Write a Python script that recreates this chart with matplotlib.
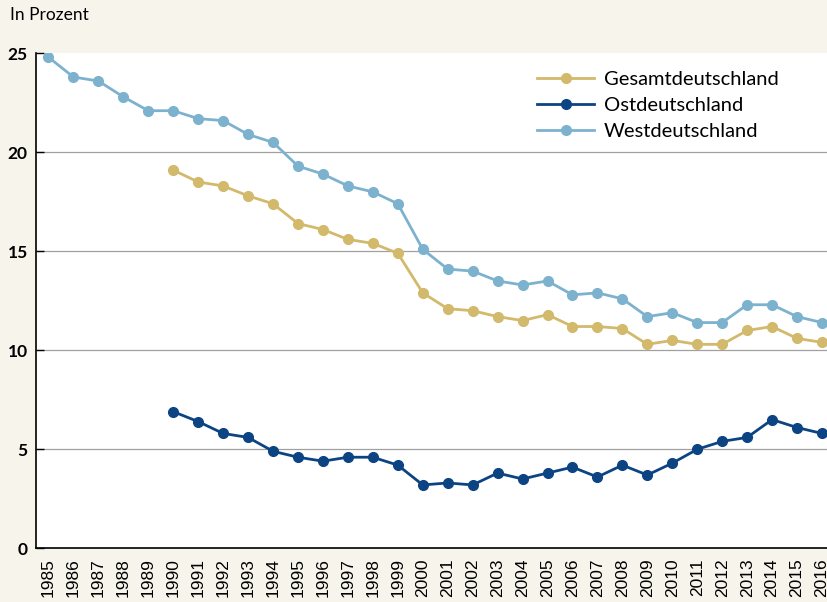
import matplotlib
matplotlib.use("Agg")
import matplotlib.pyplot as plt

# Werte in Prozent
jahre = list(range(1985, 2017))
jahre_ab_1990 = list(range(1990, 2017))

west = [24.8, 23.8, 23.6, 22.8, 22.1, 22.1, 21.7, 21.6, 20.9, 20.5,
        19.3, 18.9, 18.3, 18.0, 17.4, 15.1, 14.1, 14.0, 13.5, 13.3,
        13.5, 12.8, 12.9, 12.6, 11.7, 11.9, 11.4, 11.4, 12.3, 12.3,
        11.7, 11.4]
gesamt = [19.1, 18.5, 18.3, 17.8, 17.4, 16.4, 16.1, 15.6, 15.4, 14.9,
          12.9, 12.1, 12.0, 11.7, 11.5, 11.8, 11.2, 11.2, 11.1, 10.3,
          10.5, 10.3, 10.3, 11.0, 11.2, 10.6, 10.4]
ost = [6.9, 6.4, 5.8, 5.6, 4.9, 4.6, 4.4, 4.6, 4.6, 4.2,
       3.2, 3.3, 3.2, 3.8, 3.5, 3.8, 4.1, 3.6, 4.2, 3.7,
       4.3, 5.0, 5.4, 5.6, 6.5, 6.1, 5.8]

c_gesamt = '#d3b96b'
c_ost = '#0c4483'
c_west = '#7db2cf'
bg = '#f7f4ec'

fig = plt.figure(figsize=(8.27, 6.02), dpi=100, facecolor=bg)
ax = fig.add_axes([36 / 827, 0.0892, 1 - 36 / 827, 0.9115 - 0.0892])
ax.set_facecolor('white')

kw = dict(linewidth=2.0, marker='o', markersize=7)
ax.plot(jahre_ab_1990, gesamt, color=c_gesamt, label='Gesamtdeutschland', **kw)
ax.plot(jahre_ab_1990, ost, color=c_ost, label='Ostdeutschland', **kw)
ax.plot(jahre, west, color=c_west, label='Westdeutschland', **kw)

ax.set_xlim(1984.5, 2016.2)
ax.set_ylim(0, 25)
ax.set_yticks([0, 5, 10, 15, 20, 25])
ax.set_yticklabels(['0', '5', '10', '15', '20', '25'], fontfamily='Lato',
                   fontweight='bold', fontsize=12.5)
for y in [5, 10, 15, 20]:
    ax.axhline(y, color='#a0a0a0', linewidth=0.9, zorder=0)

ax.set_xticks(jahre)
ax.set_xticklabels([str(j) for j in jahre], rotation=90,
                   fontfamily='Liberation Sans', fontsize=12.5)
ax.tick_params(axis='x', length=0, pad=7)
ax.tick_params(axis='y', direction='in', length=6, width=1, pad=6)

for s in ['top', 'right']:
    ax.spines[s].set_visible(False)
for s in ['left', 'bottom']:
    ax.spines[s].set_color('black')
    ax.spines[s].set_linewidth(1.2)

leg = ax.legend(loc='upper left', bbox_to_anchor=(0.611, 1.0), frameon=False,
                prop={'family': 'Lato', 'size': 14.5}, handlelength=2.8,
                labelspacing=0.42, handletextpad=0.5, borderpad=0.4)

fig.text(10 / 827, 1 - 15 / 602, 'In Prozent', fontfamily='Lato', fontsize=12.5,
         va='center', ha='left')

fig.savefig('out.png', dpi=100, facecolor=bg)
